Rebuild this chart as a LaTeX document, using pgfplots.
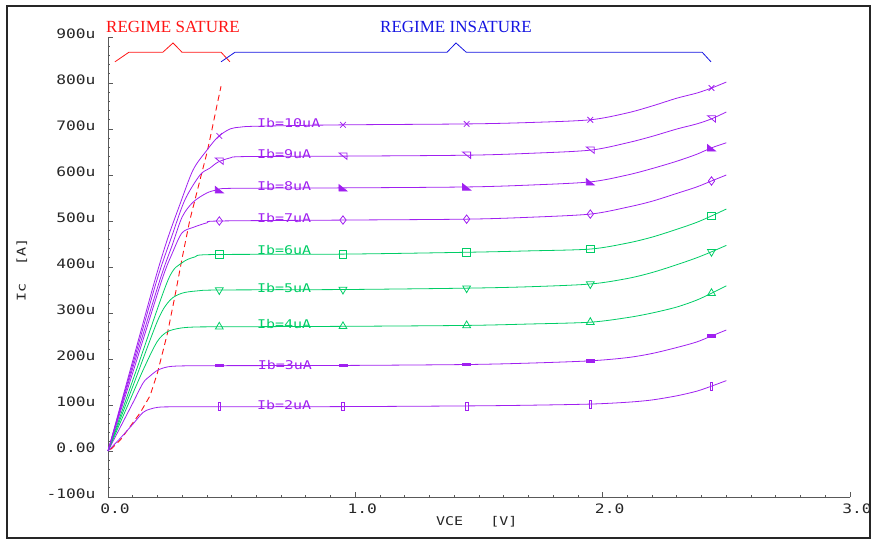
\documentclass[border=0pt]{standalone}
\usepackage{pgfplots}
\pgfplotsset{compat=1.18}
\usepackage{fontspec}
\setmainfont{DejaVu Sans Mono}
\newfontfamily\plotfont{DejaVu Sans Mono}[FakeStretch=1.25]
\newfontfamily\titlefont{Liberation Serif}
\definecolor{cpur}{RGB}{160,32,240}
\definecolor{cgrn}{RGB}{0,205,102}
\definecolor{cred}{RGB}{255,20,20}
\definecolor{cblu}{RGB}{20,20,225}
\pgfdeclareplotmark{triA}{%
  \pgfpathmoveto{\pgfqpoint{-\pgfplotmarksize}{0.8\pgfplotmarksize}}%
  \pgfpathlineto{\pgfqpoint{\pgfplotmarksize}{0.8\pgfplotmarksize}}%
  \pgfpathlineto{\pgfqpoint{\pgfplotmarksize}{-0.8\pgfplotmarksize}}%
  \pgfpathclose\pgfusepathqstroke}
\pgfdeclareplotmark{triB}{%
  \pgfpathmoveto{\pgfqpoint{-\pgfplotmarksize}{0.8\pgfplotmarksize}}%
  \pgfpathlineto{\pgfqpoint{-\pgfplotmarksize}{-0.8\pgfplotmarksize}}%
  \pgfpathlineto{\pgfqpoint{\pgfplotmarksize}{-0.8\pgfplotmarksize}}%
  \pgfpathclose\pgfusepathqfillstroke}
\pgfdeclareplotmark{hbar}{%
  \pgfpathrectangle{\pgfqpoint{-\pgfplotmarksize}{-0.3\pgfplotmarksize}}{\pgfqpoint{2\pgfplotmarksize}{0.6\pgfplotmarksize}}%
  \pgfusepathqfillstroke}
\pgfdeclareplotmark{vbar}{%
  \pgfpathrectangle{\pgfqpoint{-0.35\pgfplotmarksize}{-\pgfplotmarksize}}{\pgfqpoint{0.7\pgfplotmarksize}{2\pgfplotmarksize}}%
  \pgfusepathqstroke}
\newcommand{\lab}{\plotfont\fontsize{12bp}{14bp}\selectfont}
\begin{document}
\begin{tikzpicture}
\path[use as bounding box] (-108bp,-45bp) rectangle (767bp,497bp);
\draw[line width=1.6bp, black!85] (-101bp,-41bp) rectangle (762bp,491bp);
\begin{axis}[
  at={(0,0)}, anchor=south west,
  scale only axis, width=742bp, height=460bp,
  xmin=0, xmax=3, ymin=-100, ymax=900,
  clip=false,
  axis x line*=bottom, axis y line*=left,
  axis line style={black!65, line width=0.8bp},
  tick align=inside,
  major tick length=5bp, minor tick length=2.5bp,
  tick style={black!65, line width=0.8bp},
  xtick={0,1,2,3}, xticklabels={0.0,1.0,2.0,3.0},
  ytick={-100,0,100,200,300,400,500,600,700,800,900},
  yticklabels={-100u,0.00,100u,200u,300u,400u,500u,600u,700u,800u,900u},
  minor x tick num=9, minor y tick num=4,
  ticklabel style={font=\plotfont\fontsize{13bp}{15bp}\selectfont, text=black!85},
  xticklabel style={anchor=north, xshift=7bp, yshift=-3bp},
  yticklabel style={anchor=east, xshift=-9bp, yshift=3bp},
  xlabel={VCE\ \ \ [V]},
  ylabel={Ic\ \ [A]},
  label style={font=\plotfont\fontsize{12bp}{14bp}\selectfont, text=black!85},
  xlabel style={at={(axis description cs:0.497,-0.054)}, anchor=center},
  ylabel style={at={(axis description cs:-0.116,0.493)}, anchor=center, rotate=0},
  every axis plot/.append style={line width=0.8bp},
]
% saturation boundary
\addplot[cred, dashed, dash pattern=on 6bp off 4bp, line width=0.9bp] coordinates {
(0.01,3)(0.05,24)(0.13,83)(0.17,120)(0.20,170)(0.24,255)(0.27,335)(0.30,420)(0.33,500)(0.37,585)(0.40,648)(0.42,698)(0.44,750)(0.457,793)};
% curves
\addplot[cpur, smooth, tension=0.5] coordinates {
(0,0)(0.05,28)(0.10,58)(0.142,84)(0.17,91)(0.202,95)(0.25,96)(0.45,96)(0.95,96.5)(1.45,98)(1.7,99.5)(1.95,102)(2.1,106)(2.2,111)(2.3,120)(2.38,130)(2.44,141)(2.5,153)};
\addplot[cpur, smooth, tension=0.5] coordinates {
(0,0)(0.05,52)(0.10,104)(0.142,148)(0.17,163)(0.202,176)(0.243,183)(0.3,185)(0.45,185.5)(0.95,186)(1.45,188)(1.7,191)(1.95,196)(2.1,203)(2.2,212)(2.3,225)(2.38,237)(2.44,250)(2.5,263)};
\addplot[cgrn, smooth, tension=0.5] coordinates {
(0,0)(0.07,87)(0.142,176)(0.198,237)(0.239,259)(0.291,267)(0.35,269.5)(0.45,270)(0.95,271)(1.45,273)(1.7,276)(1.95,280)(2.1,290)(2.2,300)(2.3,313)(2.38,328)(2.44,343)(2.5,359)};
\addplot[cgrn, smooth, tension=0.5] coordinates {
(0,0)(0.1,140)(0.202,285)(0.251,328)(0.299,343)(0.36,348)(0.45,350)(0.95,351)(1.45,354)(1.7,357)(1.95,363)(2.1,375)(2.2,388)(2.3,405)(2.38,420)(2.44,433)(2.5,447)};
\addplot[cgrn, smooth, tension=0.5] coordinates {
(0,0)(0.12,184)(0.243,372)(0.299,409)(0.352,422)(0.42,427)(0.95,428)(1.45,432)(1.7,435)(1.95,439)(2.1,452)(2.2,465)(2.3,482)(2.38,497)(2.44,511)(2.5,526)};
\addplot[cpur, smooth, tension=0.5] coordinates {
(0,0)(0.11,187)(0.218,372)(0.26,430)(0.299,474)(0.344,486)(0.40,496)(0.45,500)(0.95,502)(1.45,504)(1.7,508)(1.95,515)(2.1,530)(2.2,543)(2.3,560)(2.38,574)(2.44,587)(2.5,600)};
\addplot[cpur, smooth, tension=0.5] coordinates {
(0,0)(0.1,180)(0.21,372)(0.26,448)(0.30,509)(0.344,541)(0.40,561)(0.445,568)(0.5,571)(0.95,572)(1.45,574)(1.7,578)(1.95,585)(2.1,600)(2.2,614)(2.3,630)(2.38,645)(2.44,659)(2.5,670)};
\addplot[cpur, smooth, tension=0.5] coordinates {
(0,0)(0.1,188)(0.198,372)(0.26,470)(0.311,546)(0.372,600)(0.412,615)(0.445,628)(0.493,637)(0.55,640)(0.95,641)(1.45,643)(1.7,647)(1.95,654)(2.1,670)(2.2,684)(2.3,700)(2.38,711)(2.44,722)(2.5,737)};
\addplot[cpur, smooth, tension=0.5] coordinates {
(0,0)(0.1,196)(0.19,372)(0.24,460)(0.29,535)(0.344,611)(0.40,654)(0.445,683)(0.493,700)(0.534,704)(0.6,706)(0.95,709)(1.45,711)(1.7,714)(1.95,720)(2.1,735)(2.2,750)(2.3,767)(2.38,778)(2.44,789)(2.5,802)};
% markers
\addplot[cpur, only marks, mark=vbar, mark size=4bp] coordinates {(0.45,96)(0.95,96.5)(1.45,98)(1.95,102)(2.44,141)};
\addplot[cpur, only marks, mark=hbar, mark size=4bp] coordinates {(0.45,185.5)(0.95,186)(1.45,188)(1.95,196)(2.44,250)};
\addplot[cgrn, only marks, mark=triangle, mark size=4.5bp] coordinates {(0.45,270)(0.95,271)(1.45,273)(1.95,280)(2.44,343)};
\addplot[cgrn, only marks, mark=triangle, mark options={rotate=180}, mark size=4.5bp] coordinates {(0.45,350)(0.95,351)(1.45,354)(1.95,363)(2.44,433)};
\addplot[cgrn, only marks, mark=square, mark size=3.8bp] coordinates {(0.45,427)(0.95,428)(1.45,432)(1.95,439)(2.44,511)};
\addplot[cpur, only marks, mark=diamond, mark size=4.2bp] coordinates {(0.45,500)(0.95,502)(1.45,504)(1.95,515)(2.44,587)};
\addplot[cpur, only marks, mark=triB, mark size=4bp] coordinates {(0.45,568)(0.95,572)(1.45,574)(1.95,585)(2.44,659)};
\addplot[cpur, only marks, mark=triA, mark size=4bp] coordinates {(0.45,630)(0.95,641)(1.45,643)(1.95,654)(2.44,722)};
\addplot[cpur, only marks, mark=x, mark size=4bp] coordinates {(0.45,685)(0.95,709)(1.45,711)(1.95,720)(2.44,789)};
% labels
\node[anchor=west, inner sep=0, text=cpur, font=\lab] at (axis cs:0.602,712) {Ib=10uA};
\node[anchor=west, inner sep=0, text=cpur, font=\lab] at (axis cs:0.602,645) {Ib=9uA};
\node[anchor=west, inner sep=0, text=cpur, font=\lab] at (axis cs:0.602,576) {Ib=8uA};
\node[anchor=west, inner sep=0, text=cpur, font=\lab] at (axis cs:0.602,506) {Ib=7uA};
\node[anchor=west, inner sep=0, text=cgrn, font=\lab] at (axis cs:0.602,436) {Ib=6uA};
\node[anchor=west, inner sep=0, text=cgrn, font=\lab] at (axis cs:0.602,354) {Ib=5uA};
\node[anchor=west, inner sep=0, text=cgrn, font=\lab] at (axis cs:0.602,276) {Ib=4uA};
\node[anchor=west, inner sep=0, text=cpur, font=\lab] at (axis cs:0.605,186) {Ib=3uA};
\node[anchor=west, inner sep=0, text=cpur, font=\lab] at (axis cs:0.602,100) {Ib=2uA};
% regime braces
\draw[cred, line width=0.8bp] (axis cs:0.028,846)--(axis cs:0.085,867)--(axis cs:0.222,867)--(axis cs:0.263,887)--(axis cs:0.299,867)--(axis cs:0.457,867)--(axis cs:0.493,846);
\draw[cblu, line width=0.8bp] (axis cs:0.457,846)--(axis cs:0.514,867)--(axis cs:1.371,867)--(axis cs:1.407,887)--(axis cs:1.448,867)--(axis cs:2.402,867)--(axis cs:2.438,846);
\node[text=cred, font=\titlefont\fontsize{17bp}{19bp}\selectfont] at (axis cs:0.263,922) {REGIME SATURE};
\node[text=cblu, font=\titlefont\fontsize{17bp}{19bp}\selectfont] at (axis cs:1.407,922) {REGIME INSATURE};
\end{axis}
\end{tikzpicture}
\end{document}
